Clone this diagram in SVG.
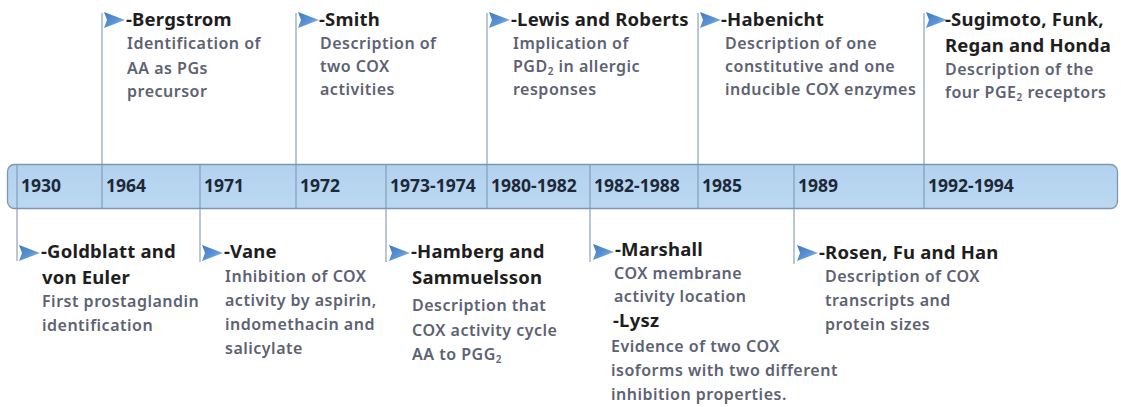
<svg xmlns="http://www.w3.org/2000/svg" width="1121" height="407" viewBox="0 0 1121 407">
  <defs>
    <linearGradient id="flag" x1="0" y1="0" x2="1" y2="1">
      <stop offset="0" stop-color="#3f78c0"/>
      <stop offset="0.55" stop-color="#5b95d6"/>
      <stop offset="1" stop-color="#a9cdf0"/>
    </linearGradient>
    <linearGradient id="barFill" x1="0" y1="0" x2="0" y2="1">
      <stop offset="0" stop-color="#b3d2f0"/>
      <stop offset="1" stop-color="#bcd8f0"/>
    </linearGradient>
    <!-- right-pointing flag used at the head of every event -->
    <polygon id="flagMark" points="0,0 21,8 0,16 3,8" fill="url(#flag)"/>
    <style>
      text { font-family: "Noto Sans", "Open Sans", "Liberation Sans", sans-serif; }
      .title { font-size: 18.5px; font-weight: 700; fill: #1e1e1e; letter-spacing: 0.2px; }
      .desc { font-size: 16px; font-weight: 600; fill: #5d6273; letter-spacing: 0.5px; }
      .year { font-size: 17.5px; font-weight: 700; fill: #1d2838; }
      .sub { font-size: 10px; }
      .stem { stroke: #a9b9cc; stroke-width: 1.6; fill: none; }
      .tick { stroke: #7d98b8; stroke-width: 1.1; }
    </style>
  </defs>

  <!-- event stems linking the time bar to each entry -->
  <g id="connectors">
    <line class="stem" x1="102" y1="13" x2="102" y2="165"/>
    <line class="stem" x1="296" y1="13" x2="296" y2="165"/>
    <line class="stem" x1="487" y1="13" x2="487" y2="165"/>
    <line class="stem" x1="698" y1="13" x2="698" y2="165"/>
    <line class="stem" x1="924" y1="13" x2="924" y2="165"/>
    <line class="stem" x1="17" y1="208" x2="17" y2="261"/>
    <line class="stem" x1="200" y1="208" x2="200" y2="262"/>
    <line class="stem" x1="386" y1="208" x2="386" y2="262"/>
    <line class="stem" x1="590" y1="208" x2="590" y2="262"/>
    <line class="stem" x1="794" y1="208" x2="794" y2="264"/>
  </g>

  <!-- time bar with year cells -->
  <g id="timeline">
    <rect x="7.5" y="164.5" width="1110" height="44" rx="7" fill="url(#barFill)" stroke="#8195ad" stroke-width="1.3"/>
    <line class="tick" x1="17" y1="165" x2="17" y2="208"/>
    <line class="tick" x1="102" y1="165" x2="102" y2="208"/>
    <line class="tick" x1="200" y1="165" x2="200" y2="208"/>
    <line class="tick" x1="296" y1="165" x2="296" y2="208"/>
    <line class="tick" x1="386" y1="165" x2="386" y2="208"/>
    <line class="tick" x1="487" y1="165" x2="487" y2="208"/>
    <line class="tick" x1="590" y1="165" x2="590" y2="208"/>
    <line class="tick" x1="698" y1="165" x2="698" y2="208"/>
    <line class="tick" x1="794" y1="165" x2="794" y2="208"/>
    <line class="tick" x1="924" y1="165" x2="924" y2="208"/>
    <text class="year" x="21" y="192">1930</text>
    <text class="year" x="106" y="192">1964</text>
    <text class="year" x="204" y="192">1971</text>
    <text class="year" x="300" y="192">1972</text>
    <text class="year" x="390" y="192">1973-1974</text>
    <text class="year" x="491" y="192">1980-1982</text>
    <text class="year" x="594" y="192">1982-1988</text>
    <text class="year" x="702" y="192">1985</text>
    <text class="year" x="798" y="192">1989</text>
    <text class="year" x="928" y="192">1992-1994</text>
  </g>

  <!-- events above the bar -->
  <g id="bergstrom">
    <use href="#flagMark" x="104" y="12"/>
    <text class="title" x="126" y="26">-Bergstrom</text>
    <text class="desc" x="127" y="49">Identification of</text>
    <text class="desc" x="127" y="74">AA as PGs</text>
    <text class="desc" x="127" y="97">precursor</text>
  </g>

  <g id="smith">
    <use href="#flagMark" x="298" y="12"/>
    <text class="title" x="319" y="26">-Smith</text>
    <text class="desc" x="320" y="49">Description of</text>
    <text class="desc" x="320" y="72">two COX</text>
    <text class="desc" x="320" y="95">activities</text>
  </g>

  <g id="lewis-roberts">
    <use href="#flagMark" x="489" y="12"/>
    <text class="title" x="511" y="26">-Lewis and Roberts</text>
    <text class="desc" x="513" y="49">Implication of</text>
    <text class="desc" x="513" y="72">PGD<tspan class="sub" dy="3">2</tspan><tspan dy="-3"> in allergic</tspan></text>
    <text class="desc" x="513" y="95">responses</text>
  </g>

  <g id="habenicht">
    <use href="#flagMark" x="700" y="12"/>
    <text class="title" x="721" y="26">-Habenicht</text>
    <text class="desc" x="725" y="49">Description of one</text>
    <text class="desc" x="725" y="72">constitutive and one</text>
    <text class="desc" x="725" y="95">inducible COX enzymes</text>
  </g>

  <g id="sugimoto">
    <use href="#flagMark" x="926" y="12"/>
    <text class="title" x="945" y="26">-Sugimoto, Funk,</text>
    <text class="title" x="945" y="52">Regan and Honda</text>
    <text class="desc" x="945" y="75">Description of the</text>
    <text class="desc" x="945" y="98">four PGE<tspan class="sub" dy="3">2</tspan><tspan dy="-3"> receptors</tspan></text>
  </g>

  <!-- events below the bar -->
  <g id="goldblatt-euler">
    <use href="#flagMark" x="19" y="245"/>
    <text class="title" x="41" y="258">-Goldblatt and</text>
    <text class="title" x="42" y="284">von Euler</text>
    <text class="desc" x="42" y="307">First prostaglandin</text>
    <text class="desc" x="42" y="331">identification</text>
  </g>

  <g id="vane">
    <use href="#flagMark" x="202" y="245"/>
    <text class="title" x="224" y="258">-Vane</text>
    <text class="desc" x="225" y="282">Inhibition of COX</text>
    <text class="desc" x="225" y="306">activity by aspirin,</text>
    <text class="desc" x="225" y="330">indomethacin and</text>
    <text class="desc" x="225" y="354">salicylate</text>
  </g>

  <g id="hamberg-samuelsson">
    <use href="#flagMark" x="389" y="245"/>
    <text class="title" x="411" y="258">-Hamberg and</text>
    <text class="title" x="412" y="284">Sammuelsson</text>
    <text class="desc" x="412" y="311">Description that</text>
    <text class="desc" x="412" y="336">COX activity cycle</text>
    <text class="desc" x="412" y="360">AA to PGG<tspan class="sub" dy="3">2</tspan></text>
  </g>

  <g id="marshall-lysz">
    <use href="#flagMark" x="593" y="244"/>
    <text class="title" x="615" y="256">-Marshall</text>
    <text class="desc" x="614" y="279">COX membrane</text>
    <text class="desc" x="614" y="302">activity location</text>
    <text class="title" x="613" y="327">-Lysz</text>
    <text class="desc" x="611" y="352">Evidence of two COX</text>
    <text class="desc" x="611" y="376">isoforms with two different</text>
    <text class="desc" x="611" y="400">inhibition properties.</text>
  </g>

  <g id="rosen-fu-han">
    <use href="#flagMark" x="797" y="245"/>
    <text class="title" x="819" y="259">-Rosen, Fu and Han</text>
    <text class="desc" x="825" y="282">Description of COX</text>
    <text class="desc" x="825" y="306">transcripts and</text>
    <text class="desc" x="825" y="330">protein sizes</text>
  </g>
</svg>
